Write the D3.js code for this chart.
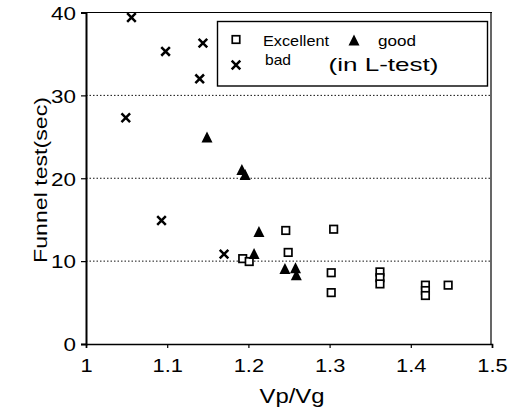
<!DOCTYPE html>
<html><head><meta charset="utf-8">
<script src="https://cdn.jsdelivr.net/npm/d3@7"></script>
<style>body{margin:0;background:#fff}svg{display:block}text{font-family:"Liberation Sans",Arial,sans-serif;fill:#000}</style>
</head><body>
<svg id="c" width="510" height="414"></svg>
<script>
const xTicks = [1, 1.1, 1.2, 1.3, 1.4, 1.5];
const yTicks = [0, 10, 20, 30, 40];
const gridTicks = [10, 20, 30];
const excellentX = [1.193, 1.201, 1.246, 1.249, 1.305, 1.302, 1.302, 1.362, 1.362, 1.362, 1.418, 1.418, 1.418, 1.446];
const excellentY = [10.3, 9.95, 13.7, 11.05, 13.85, 8.6, 6.2, 8.7, 8.0, 7.25, 7.1, 6.45, 5.85, 7.1];
const goodX = [1.149, 1.192, 1.196, 1.213, 1.207, 1.245, 1.258, 1.259];
const goodY = [24.9, 21.0, 20.4, 13.5, 10.85, 9.05, 9.13, 8.3];
const badX = [1.056, 1.098, 1.144, 1.140, 1.049, 1.093, 1.170];
const badY = [39.4, 35.3, 36.3, 32.0, 27.3, 14.9, 10.85];

const svg = d3.select("#c");
const L = 86, R = 492, T = 12.5, B = 344;
const x = d3.scaleLinear().domain([1, 1.5]).range([L, R]);
const y = d3.scaleLinear().domain([0, 40]).range([B, T]);

// grid
svg.append("g").selectAll("line").data(gridTicks).join("line")
  .attr("x1", L).attr("x2", R).attr("y1", d => y(d)).attr("y2", d => y(d))
  .attr("stroke", "#111").attr("stroke-width", 1).attr("stroke-dasharray", "1.5,2");

// frame
svg.append("line").attr("x1", L).attr("x2", R).attr("y1", T).attr("y2", T).attr("stroke", "#000").attr("stroke-width", 1.2);
svg.append("line").attr("x1", R - 1).attr("x2", R - 1).attr("y1", T).attr("y2", B).attr("stroke", "#000").attr("stroke-width", 1.2);

// axes
const xAxis = svg.append("g").attr("transform", `translate(0,${B})`)
  .call(d3.axisBottom(x).tickValues(xTicks).tickFormat(d3.format("")).tickSize(4));
const yAxis = svg.append("g").attr("transform", `translate(${L},0)`)
  .call(d3.axisLeft(y).tickValues(yTicks).tickSize(5));
[xAxis, yAxis].forEach(a => {
  a.selectAll("text").style("font-size", "19px").style("font-family", "Liberation Sans, Arial, sans-serif").attr("fill", "#000");
  a.selectAll("line").attr("stroke", "#000").attr("stroke-width", 1.2);
});
xAxis.select(".domain").attr("stroke", "#000").attr("stroke-width", 1.6);
yAxis.select(".domain").attr("stroke", "#000").attr("stroke-width", 2);
xAxis.selectAll("text").attr("y", 0).attr("dy", null)
  .attr("transform", "translate(0,28) scale(1.15,1)");
yAxis.selectAll("text").attr("x", 0).attr("dy", "0.36em")
  .attr("transform", "translate(-10,0) scale(1.18,1)");

// titles
svg.append("text").attr("x", 259.5).attr("y", 403)
  .attr("textLength", 65).attr("lengthAdjust", "spacingAndGlyphs")
  .style("font-size", "21px").text("Vp/Vg");
svg.append("text").attr("transform", `translate(46.5,263) rotate(-90)`)
  .attr("textLength", 166).attr("lengthAdjust", "spacingAndGlyphs")
  .style("font-size", "19px").text("Funnel test(sec)");

// markers
const sq = 7.5, tri = 11, cr = 4.3;
function square(g, px, py) {
  g.append("rect").attr("x", px - sq / 2).attr("y", py - sq / 2).attr("width", sq).attr("height", sq)
    .attr("fill", "#fff").attr("stroke", "#000").attr("stroke-width", 1.7);
}
function triangle(g, px, py) {
  const h = tri;
  g.append("path").attr("d", `M${px},${py - h * 0.55}L${px + h / 2},${py + h * 0.45}L${px - h / 2},${py + h * 0.45}Z`).attr("fill", "#000");
}
function cross(g, px, py) {
  g.append("path").attr("d", `M${px - cr},${py - cr}L${px + cr},${py + cr}M${px - cr},${py + cr}L${px + cr},${py - cr}`)
    .attr("stroke", "#000").attr("stroke-width", 2.5);
}
const pts = svg.append("g");
excellentX.forEach((v, i) => square(pts, x(v), y(excellentY[i])));
goodX.forEach((v, i) => triangle(pts, x(v), y(goodY[i])));
badX.forEach((v, i) => cross(pts, x(v), y(badY[i])));

// legend
const lg = svg.append("g");
lg.append("rect").attr("x", 217.5).attr("y", 21.5).attr("width", 270).attr("height", 64.5)
  .attr("fill", "#fff").attr("stroke", "#000").attr("stroke-width", 1.4);
square(lg, 236, 39.5);
lg.append("text").attr("x", 263).attr("y", 46).attr("textLength", 66).attr("lengthAdjust", "spacingAndGlyphs")
  .style("font-size", "15px").text("Excellent");
triangle(lg, 354, 40.5);
lg.append("text").attr("x", 378).attr("y", 46).attr("textLength", 38).attr("lengthAdjust", "spacingAndGlyphs")
  .style("font-size", "15px").text("good");
cross(lg, 236, 65);
lg.append("text").attr("x", 265).attr("y", 65).attr("textLength", 26).attr("lengthAdjust", "spacingAndGlyphs")
  .style("font-size", "15px").text("bad");
lg.append("text").attr("x", 328.5).attr("y", 70.5).attr("textLength", 110).attr("lengthAdjust", "spacingAndGlyphs")
  .style("font-size", "19px").text("(in L-test)");
</script>
</body></html>
